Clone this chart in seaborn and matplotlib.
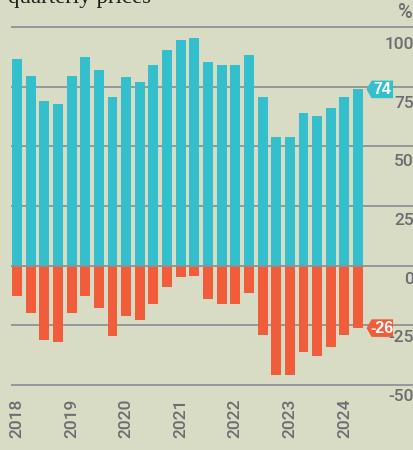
import matplotlib
matplotlib.use("Agg")
import matplotlib.pyplot as plt
import matplotlib.transforms as mtransforms
from matplotlib.patches import Polygon
import seaborn as sns
import pandas as pd

YEARS = ["2018", "2019", "2020", "2021", "2022", "2023", "2024"]
QUARTERS = [f"{y} Q{q}" for y in YEARS for q in (1, 2, 3, 4)][:26]

# share of respondents expecting higher / lower quarterly prices (%)
HIGHER = [86.7, 79.6, 68.8, 67.5, 79.6, 87.5, 81.7, 70.8, 78.8, 76.7,
          83.8, 90.4, 94.6, 95.4, 85.4, 83.8, 83.8, 88.3, 70.8, 53.8,
          53.8, 63.8, 62.5, 65.8, 70.8, 73.8]
LOWER = [-12.8, -19.9, -31.2, -31.9, -19.9, -12.8, -17.8, -29.2, -21.1, -22.9,
         -16.1, -9.0, -4.9, -4.1, -14.0, -16.2, -16.2, -11.2, -29.0, -45.8,
         -45.8, -36.1, -37.8, -34.0, -29.0, -26.1]
Y_TICKS = [100, 75, 50, 25, 0, -25, -50]

BG = "#D9DCC5"
TEAL = "#33BFCB"
ORANGE = "#F15D3B"
GRID = "#8F9195"
LABEL = "#6C6D70"
TICK_FONT = dict(family=["Roboto", "Liberation Sans"], weight="medium", size=12.5)

df = pd.DataFrame({"quarter": QUARTERS, "higher": HIGHER, "lower": LOWER})

sns.set_style("white")
plt.rcParams["font.family"] = ["Liberation Sans", "DejaVu Sans"]

fig = plt.figure(figsize=(4.14, 4.5), dpi=100, facecolor=BG)
ax = fig.add_axes([11 / 414, 60 / 450, 403 / 414, 390 / 450])
ax.set_facecolor(BG)

sns.barplot(data=df, x="quarter", y="higher", color=TEAL, width=0.73,
            saturation=1, linewidth=0, ax=ax, zorder=2)
sns.barplot(data=df, x="quarter", y="lower", color=ORANGE, width=0.73,
            saturation=1, linewidth=0, ax=ax, zorder=2)

ax.set_xlim(-0.44, 29.1)
ax.set_ylim(-52, 111.2)

# gridlines behind the bars, zero line on top; value labels sit under each line
ylab = mtransforms.blended_transform_factory(ax.transAxes, ax.transData)
for v in Y_TICKS:
    ax.axhline(v, color=GRID, lw=1.3, zorder=3 if v == 0 else 1)
    off = mtransforms.offset_copy(ylab, fig=fig, x=0, y=-(13.5 + 0.045 * v),
                                  units="dots")
    ax.text(1.0, v, str(v), transform=off, ha="right", va="center",
            color=LABEL, fontdict=TICK_FONT)

fig.text(0.998, 1 - 13 / 450, "%", ha="right", va="center", color=LABEL,
         fontdict={**TICK_FONT, "size": 14.5})
fig.text(8 / 414, 1 - 3.5 / 450, "quarterly prices", ha="left", va="baseline",
         fontsize=16.5, color="#1E1E1E", family="Liberation Serif")

for sp in ax.spines.values():
    sp.set_visible(False)
ax.set_yticks([])
ax.set_xticks(range(0, 26, 4))
ax.set_xticklabels(YEARS, rotation=90, color=LABEL, fontdict=TICK_FONT)
ax.tick_params(axis="x", length=0, pad=6)
ax.set_xlabel("")
ax.set_ylabel("")


def tag(x, y, text, color):
    trans = fig.dpi_scale_trans + mtransforms.ScaledTranslation(x, y, ax.transData)
    h = 0.088
    pts = [(0.035, 0), (0.085, h), (0.30, h), (0.30, -h), (0.085, -h)]
    ax.add_patch(Polygon(pts, closed=True, transform=trans, facecolor=color,
                         edgecolor="none", zorder=4, clip_on=False))
    ax.annotate(text, (x, y), xytext=(19 * 0.72, 0), textcoords="offset points",
                ha="center", va="center", fontsize=11.5, fontweight="bold",
                color="white", zorder=5, annotation_clip=False)


last = len(HIGHER) - 1
tag(last + 0.365, HIGHER[-1], f"{round(HIGHER[-1])}", TEAL)
tag(last + 0.365, LOWER[-1], f"{round(LOWER[-1])}", ORANGE)

fig.savefig("out.png", dpi=100, facecolor=BG)
